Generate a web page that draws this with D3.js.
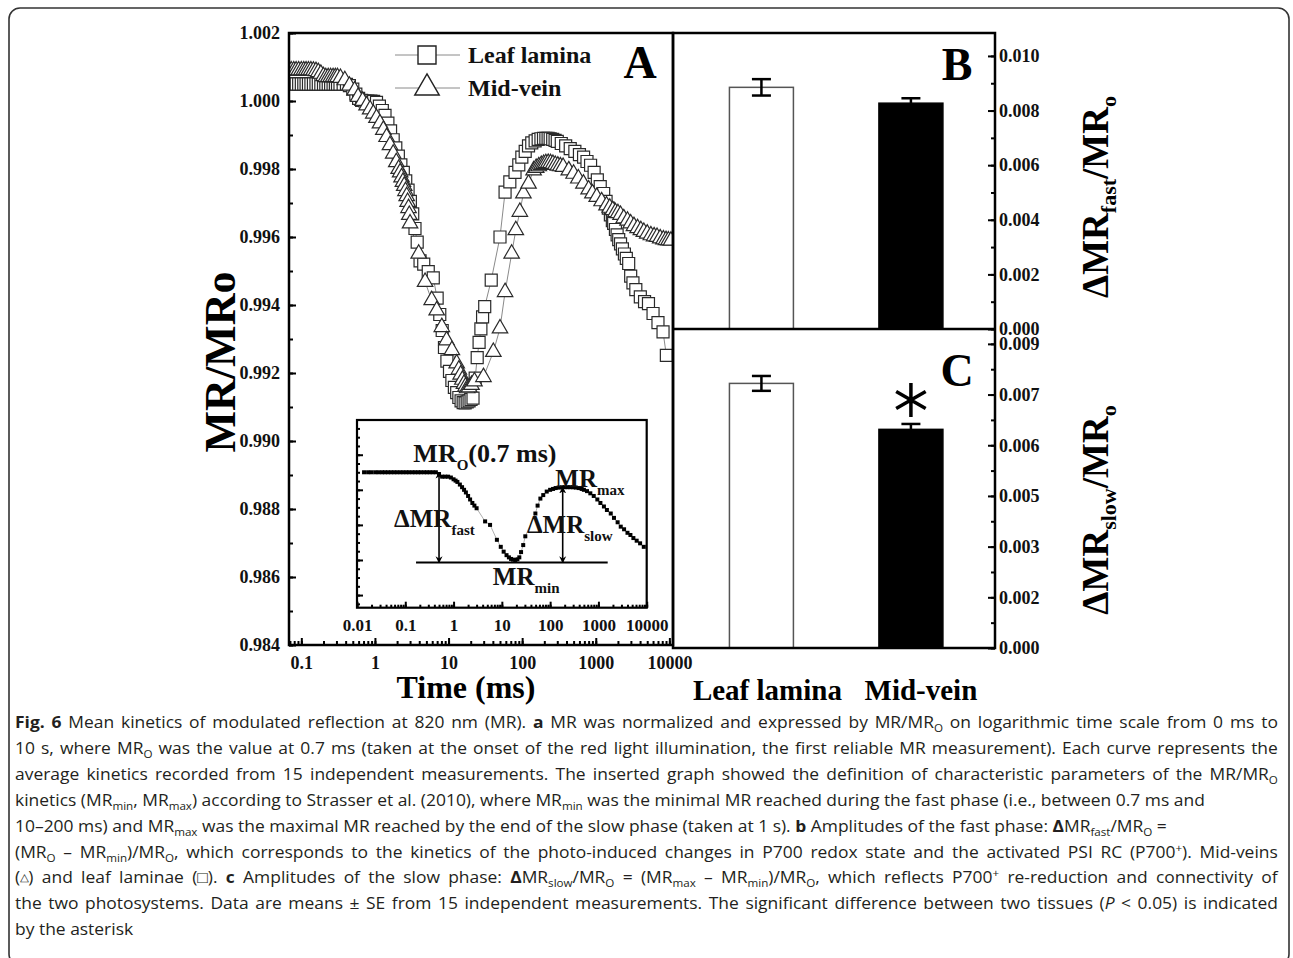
<!DOCTYPE html>
<html>
<head>
<meta charset="utf-8">
<script src="https://cdn.jsdelivr.net/npm/d3@7"></script>
<style>
  body { margin: 0; background: #fff; }
  svg { display: block; }
</style>
</head>
<body>
<div id="chart"></div>
<script>
// ---------- data ----------
// panel A: [time ms, MR/MRo]
var leafLamina = [
  [0.068,1.0005],[0.073,1.0005],[0.079,1.0005],[0.085,1.0005],[0.092,1.0005],[0.1,1.0005],[0.108,1.0005],[0.116,1.0005],
  [0.125,1.0005],[0.135,1.0005],[0.146,1.0005],[0.158,1.0005],[0.17,1.0005],[0.184,1.0005],[0.2,1.0005],[0.215,1.0005],
  [0.232,1.0005],[0.25,1.0005],[0.27,1.0005],[0.29,1.0005],[0.31,1.0005],[0.335,1.0005],[0.37,1.0005],[0.41,1.00049],
  [0.45,1.00045],[0.5,1.00035],[0.55,1.0002],[0.6,1.00008],[0.66,1.00002],[0.73,1.0],[0.8,1.0],[0.88,1.0],[0.96,0.99999],
  [1.05,0.99996],[1.15,0.99985],[1.26,0.99972],[1.37,0.99958],[1.5,0.99935],[1.63,0.99912],[1.77,0.99886],[1.92,0.99862],
  [2.08,0.99838],[2.25,0.99812],[2.43,0.9979],[2.62,0.99765],[2.82,0.99738],[3.03,0.99705],[3.26,0.99668],[3.5,0.99625],
  [3.75,0.99585],[4.1,0.9953],[4.6,0.9952],[5.3,0.99498],[6.2,0.9948],[7.0,0.9942],[7.6,0.99372],[8.2,0.99325],[8.8,0.99275],
  [9.5,0.99235],[10.3,0.99205],[11.1,0.99178],[12.0,0.99158],[12.9,0.99142],[13.8,0.99128],[14.8,0.99118],[15.8,0.99113],
  [16.8,0.99112],[17.9,0.99115],[19.0,0.99118],[20.2,0.99122],[21.5,0.99126],[23,0.99185],[24.5,0.99245],[26,0.9929],
  [27.5,0.9933],[29,0.99365],[31,0.99395],[38,0.99473],[50,0.996],[58.6,0.99732],[68,0.99762],[80,0.9979],[90,0.99812],
  [99,0.99835],[110,0.99852],[122,0.99868],[135,0.99877],[150,0.99883],[165,0.99887],[180,0.99889],[195,0.9989],[210,0.9989],
  [225,0.9989],[240,0.99889],[260,0.99887],[280,0.99884],[300,0.99881],[340,0.99875],[390,0.99868],[450,0.9986],[520,0.99852],
  [600,0.99842],[683,0.99835],[760,0.99822],[850,0.99811],[950,0.9979],[1050,0.99768],[1150,0.99748],[1280,0.99728],
  [1380,0.99705],[1480,0.99685],[1580,0.99665],[1680,0.99648],[1750,0.9964],[1850,0.99622],[1950,0.99606],[2050,0.99592],
  [2170,0.9958],[2300,0.99565],[2450,0.9955],[2600,0.99537],[2800,0.99522],[2980,0.99485],[3200,0.99465],[3500,0.99445],
  [4030,0.99424],[4600,0.9941],[5200,0.99404],[6000,0.99375],[7000,0.99348],[8200,0.99321],[9100,0.99252]
];
var midVein = [
  [0.068,1.0009],[0.073,1.0009],[0.079,1.0009],[0.085,1.0009],[0.092,1.0009],[0.1,1.0009],[0.108,1.0009],[0.116,1.0009],
  [0.125,1.0009],[0.135,1.0009],[0.146,1.00089],[0.158,1.00088],[0.17,1.00085],[0.184,1.0008],[0.2,1.00073],[0.215,1.0007],
  [0.232,1.0007],[0.25,1.0007],[0.27,1.0007],[0.29,1.0007],[0.31,1.0007],[0.34,1.00068],[0.39,1.00061],[0.45,1.00045],
  [0.53,1.00031],[0.59,1.00012],[0.68,1.0],[0.77,0.99987],[0.86,0.99975],[0.95,0.99963],[1.05,0.9995],[1.17,0.99934],
  [1.3,0.99915],[1.44,0.99894],[1.6,0.9987],[1.77,0.99845],[1.95,0.9982],[2.1,0.998],[2.2,0.9979],[2.3,0.99775],[2.4,0.99762],
  [2.5,0.9975],[2.6,0.99735],[2.7,0.9972],[2.78,0.99703],[2.86,0.99685],[2.93,0.99665],[3.0,0.9964],[3.93,0.99551],
  [4.8,0.99468],[5.9,0.99414],[6.9,0.99384],[8.1,0.99335],[9.4,0.99296],[11.1,0.99267],[12.9,0.99228],[13.8,0.9921],
  [14.6,0.99195],[15.4,0.9918],[16.2,0.99168],[17.0,0.9916],[17.9,0.99155],[19.0,0.99158],[20.5,0.99165],[22.5,0.99175],
  [29.8,0.99188],[40.6,0.99262],[50,0.99331],[58.6,0.99438],[72,0.99551],[82,0.9962],[93,0.99674],[104,0.99728],[122,0.99757],
  [143,0.99796],[155,0.99803],[168,0.99808],[182,0.99812],[196,0.99815],[210,0.99817],[226,0.99818],[243,0.99817],
  [262,0.99815],[282,0.99812],[305,0.9981],[330,0.99808],[360,0.99806],[430,0.99796],[500,0.99786],[580,0.99772],
  [680,0.99757],[800,0.9974],[900,0.99728],[1030,0.99718],[1200,0.99705],[1400,0.99693],[1550,0.99686],[1700,0.99679],
  [1850,0.99673],[2000,0.9967],[2170,0.99665],[2400,0.99655],[2700,0.99648],[2980,0.9964],[3300,0.99632],[3700,0.99626],
  [4100,0.9962],[4500,0.99615],[5000,0.9961],[5600,0.99605],[6200,0.99602],[6800,0.996],[7500,0.99596],[8300,0.99593],
  [9000,0.99591],[9700,0.9959],[10500,0.99589]
];
// inset: [time ms, relative MR]  (MRmin = 0, MRo = 1)
var insetCurve = [
  [0.014,1],[0.017,1],[0.02,1],[0.024,1],[0.028,1],[0.033,1],[0.038,1],[0.044,1],[0.051,1],[0.059,1],[0.068,1],[0.079,1],
  [0.091,1],[0.105,1],[0.12,1],[0.14,1],[0.16,1],[0.185,1],[0.21,1],[0.245,1],[0.28,1],[0.32,1],[0.37,1],[0.43,1],[0.5,0.98],
  [0.58,0.95],[0.67,0.95],[0.77,0.95],[0.88,0.94],[1.0,0.92],[1.1,0.905],[1.2,0.89],[1.35,0.86],[1.5,0.83],[1.65,0.8],
  [1.8,0.77],[2.0,0.73],[2.2,0.69],[2.45,0.65],[2.7,0.62],[3.0,0.59],[4.5,0.44],[5.7,0.4],[7.9,0.23],[9.5,0.15],[10.9,0.095],
  [12.5,0.055],[14,0.03],[15.5,0.012],[17,0.004],[19,0],[21,0.008],[23,0.03],[25,0.09],[27.7,0.17],[30.6,0.27],[49.5,0.53],
  [55,0.62],[62.8,0.7],[72,0.74],[85,0.78],[100,0.8],[115,0.81],[130,0.82],[150,0.825],[175,0.829],[200,0.83],[230,0.83],
  [260,0.83],[300,0.829],[340,0.826],[390,0.82],[450,0.81],[500,0.8],[580,0.785],[680,0.76],[800,0.73],[950,0.69],
  [1100,0.65],[1300,0.61],[1500,0.57],[1800,0.53],[2100,0.48],[2500,0.43],[2900,0.38],[3400,0.35],[4000,0.31],
  [4600,0.285],[5300,0.25],[6200,0.22],[7300,0.19],[8700,0.15]
];
var seriesNames = ["Leaf lamina", "Mid-vein"];
var timeTicks = [0.1, 1, 10, 100, 1000, 10000];
var timeTickLabels = ["0.1", "1", "10", "100", "1000", "10000"];
var mrTicks = [0.984, 0.986, 0.988, 0.990, 0.992, 0.994, 0.996, 0.998, 1.000, 1.002];
var insetTicks = [0.01, 0.1, 1, 10, 100, 1000, 10000];
var insetTickLabels = ["0.01", "0.1", "1", "10", "100", "1000", "10000"];

// panels B and C
var tissues = ["Leaf lamina", "Mid-vein"];
var fastMean = [0.00885, 0.00827];
var fastSE = [0.00030, 0.00018];
var slowMean = [0.00783, 0.00647];
var slowSE = [0.00022, 0.00016];
var fastTicks = [0, 0.002, 0.004, 0.006, 0.008, 0.010];
var slowTicks = [0, 0.0015, 0.003, 0.0045, 0.006, 0.0075, 0.009];
var slowTickLabels = ["0.000", "0.002", "0.003", "0.005", "0.006", "0.007", "0.009"];
var significant = [false, true];

// ---------- svg ----------
var width = 1293, height = 958;
var serif = "'Liberation Serif', 'Times New Roman', serif";

var svg = d3.select("#chart").append("svg")
  .attr("width", width)
  .attr("height", height)
  .style("font-family", serif);

// outer frame of the figure box (its bottom edge runs off the page)
svg.append("rect")
  .attr("x", 9).attr("y", 8).attr("width", 1280).attr("height", 957).attr("rx", 11)
  .attr("fill", "none").attr("stroke", "#333").attr("stroke-width", 1.6);

function styleAxis(g, fontSize) {
  g.select(".domain").remove();
  g.selectAll(".tick line").attr("stroke", "#000").attr("stroke-width", 2);
  g.selectAll(".tick text")
    .attr("fill", "#111")
    .style("font-family", serif)
    .style("font-size", fontSize + "px")
    .style("font-weight", "bold");
}

// ---------- panel A ----------
var A = { left: 289, right: 673, top: 33, bottom: 645 };
var x = d3.scaleLog().domain([0.068, 11200]).range([A.left, A.right]);
var y = d3.scaleLinear().domain([0.984, 1.002]).range([A.bottom, A.top]);

svg.append("clipPath").attr("id", "clipA").append("rect")
  .attr("x", A.left).attr("y", A.top).attr("width", A.right - A.left).attr("height", A.bottom - A.top);

var gA = svg.append("g");

gA.append("g").attr("transform", "translate(0," + A.bottom + ")")
  .call(d3.axisBottom(x).tickValues(x.ticks()).tickFormat("").tickSizeInner(-4).tickSizeOuter(0))
  .call(styleAxis, 18);
gA.append("g").attr("transform", "translate(0," + A.bottom + ")")
  .call(d3.axisBottom(x).tickValues(timeTicks).tickFormat(function(d, i) { return timeTickLabels[i]; })
    .tickSizeInner(-7).tickSizeOuter(0).tickPadding(11))
  .call(styleAxis, 18);

var mrMinor = y.ticks(18);
gA.append("g").attr("transform", "translate(" + A.left + ",0)")
  .call(d3.axisLeft(y).tickValues(mrMinor).tickFormat("").tickSizeInner(-4).tickSizeOuter(0))
  .call(styleAxis, 18);
gA.append("g").attr("transform", "translate(" + A.left + ",0)")
  .call(d3.axisLeft(y).tickValues(mrTicks).tickFormat(d3.format(".3f")).tickSizeInner(-7).tickSizeOuter(0).tickPadding(9))
  .call(styleAxis, 18);

var plotA = gA.append("g").attr("clip-path", "url(#clipA)");
var line = d3.line().x(function(d) { return x(d[0]); }).y(function(d) { return y(d[1]); });

[leafLamina, midVein].forEach(function(series) {
  plotA.append("path").datum(series)
    .attr("d", line).attr("fill", "none").attr("stroke", "#8a8a8a").attr("stroke-width", 1);
});

var squareSym = d3.symbol().type(d3.symbolSquare).size(144);
var triSym = d3.symbol().type(d3.symbolTriangle).size(104);

plotA.selectAll(".sq").data(leafLamina).enter().append("path")
  .attr("class", "sq")
  .attr("d", squareSym)
  .attr("transform", function(d) { return "translate(" + x(d[0]) + "," + y(d[1]) + ")"; })
  .attr("fill", "#fff").attr("stroke", "#2a2a2a").attr("stroke-width", 1.2);

plotA.selectAll(".tri").data(midVein).enter().append("path")
  .attr("class", "tri")
  .attr("d", triSym)
  .attr("transform", function(d) { return "translate(" + x(d[0]) + "," + y(d[1]) + ")"; })
  .attr("fill", "#fff").attr("stroke", "#2a2a2a").attr("stroke-width", 1.2);

// legend
var legend = gA.append("g");
seriesNames.forEach(function(name, i) {
  var ly = 55 + i * 33;
  legend.append("line").attr("x1", 395).attr("x2", 460).attr("y1", ly).attr("y2", ly)
    .attr("stroke", "#8a8a8a").attr("stroke-width", 1);
  legend.append("path")
    .attr("d", i === 0 ? d3.symbol().type(d3.symbolSquare).size(324)() : d3.symbol().type(d3.symbolTriangle).size(260)())
    .attr("transform", "translate(427," + ly + ")")
    .attr("fill", "#fff").attr("stroke", "#222").attr("stroke-width", 1.4);
  legend.append("text").attr("x", 468).attr("y", ly + 8).text(name)
    .style("font-size", "24px").style("font-weight", "bold").attr("fill", "#111");
});

gA.append("text").attr("x", 640).attr("y", 78).attr("text-anchor", "middle").text("A")
  .style("font-size", "46px").style("font-weight", "bold");

gA.append("text").attr("transform", "translate(235,362) rotate(-90)").attr("text-anchor", "middle")
  .text("MR/MRo").style("font-size", "44px").style("font-weight", "bold");

gA.append("text").attr("x", 466).attr("y", 698).attr("text-anchor", "middle")
  .text("Time (ms)").style("font-size", "32px").style("font-weight", "bold");

// ---------- inset ----------
var I = { left: 357, right: 646.7, top: 420, bottom: 607.7 };
var xi = d3.scaleLog().domain([0.01, 10000]).range([I.left, I.right]);
var yi = d3.scaleLinear().domain([-0.544, 1.596]).range([I.bottom, I.top]);
var gI = svg.append("g");

gI.append("rect").attr("x", I.left).attr("y", I.top).attr("width", I.right - I.left).attr("height", I.bottom - I.top)
  .attr("fill", "#fff");

gI.append("g").attr("transform", "translate(0," + I.bottom + ")")
  .call(d3.axisBottom(xi).tickValues(xi.ticks()).tickFormat("").tickSizeInner(-3).tickSizeOuter(0))
  .call(styleAxis, 17);
gI.append("g").attr("transform", "translate(0," + I.bottom + ")")
  .call(d3.axisBottom(xi).tickValues(insetTicks).tickFormat(function(d, i) { return insetTickLabels[i]; })
    .tickSizeInner(-6).tickSizeOuter(0).tickPadding(11))
  .call(styleAxis, 17);
gI.append("g").attr("transform", "translate(" + I.left + ",0)")
  .call(d3.axisLeft(yi).tickValues(yi.ticks(20)).tickFormat("").tickSizeInner(-3).tickSizeOuter(0))
  .call(styleAxis, 17);
gI.append("g").attr("transform", "translate(" + I.left + ",0)")
  .call(d3.axisLeft(yi).tickValues(d3.range(-0.4, 1.6, 0.4)).tickFormat("").tickSizeInner(-6).tickSizeOuter(0))
  .call(styleAxis, 17);

var insetLine = d3.line().x(function(d) { return xi(d[0]); }).y(function(d) { return yi(d[1]); });
gI.append("path").datum(insetCurve).attr("d", insetLine)
  .attr("fill", "none").attr("stroke", "#999").attr("stroke-width", 0.8);
gI.selectAll(".dot").data(insetCurve).enter().append("rect")
  .attr("class", "dot")
  .attr("x", function(d) { return xi(d[0]) - 2; })
  .attr("y", function(d) { return yi(d[1]) - 2; })
  .attr("width", 4).attr("height", 4).attr("fill", "#000");

// MRmin baseline and the two double arrows
var minLevel = -0.03;
gI.append("line").attr("x1", xi(0.167)).attr("x2", xi(1556)).attr("y1", yi(minLevel)).attr("y2", yi(minLevel))
  .attr("stroke", "#000").attr("stroke-width", 2);

var defs = svg.append("defs");
defs.append("marker").attr("id", "ahead").attr("viewBox", "0 0 10 10").attr("refX", 9).attr("refY", 5)
  .attr("markerWidth", 7).attr("markerHeight", 8).attr("markerUnits", "userSpaceOnUse").attr("orient", "auto-start-reverse")
  .append("path").attr("d", "M0,0 L10,5 L0,10 L3,5 Z").attr("fill", "#000");

[[0.5, 1.0], [182, 0.83]].forEach(function(a) {
  gI.append("line").attr("x1", xi(a[0])).attr("x2", xi(a[0])).attr("y1", yi(a[1])).attr("y2", yi(minLevel))
    .attr("stroke", "#000").attr("stroke-width", 1.6)
    .attr("marker-start", "url(#ahead)").attr("marker-end", "url(#ahead)");
});

var insetNotes = [
  { t: 0.147, v: 1.12, main: "MR", sub: "O", after: "(0.7 ms)", size: 26 },
  { t: 128, v: 0.836, main: "MR", sub: "max", after: "", size: 25 },
  { t: 0.0586, v: 0.38, main: "\u0394MR", sub: "fast", after: "", size: 25 },
  { t: 33, v: 0.308, main: "\u0394MR", sub: "slow", after: "", size: 25 },
  { t: 6.5, v: -0.285, main: "MR", sub: "min", after: "", size: 25 }
];
insetNotes.forEach(function(n) {
  var t = gI.append("text").attr("x", xi(n.t)).attr("y", yi(n.v))
    .style("font-size", n.size + "px").style("font-weight", "bold").attr("fill", "#111");
  t.append("tspan").text(n.main);
  t.append("tspan").attr("dy", 8).style("font-size", "15px").text(n.sub);
  if (n.after) t.append("tspan").attr("dy", -8).text(n.after);
});

gI.append("rect").attr("x", I.left).attr("y", I.top).attr("width", I.right - I.left).attr("height", I.bottom - I.top)
  .attr("fill", "none").attr("stroke", "#000").attr("stroke-width", 2.2);

// frame of A
gA.append("rect").attr("x", A.left).attr("y", A.top).attr("width", A.right - A.left).attr("height", A.bottom - A.top)
  .attr("fill", "none").attr("stroke", "#000").attr("stroke-width", 2.5);

// ---------- panels B and C ----------
var R = { left: 673, right: 995, top: 33, mid: 329, bottom: 648 };
var xb = d3.scaleBand().domain(tissues).range([R.left, R.right])
  .paddingInner(0.572).paddingOuter(0.363).align(0.52);
var yB = d3.scaleLinear().domain([0, 0.01084]).range([R.mid, R.top]);
var yC = d3.scaleLinear().domain([0, 0.00944]).range([R.bottom, R.mid]);

function barPanel(yScale, means, ses, ticks, minorStep, labels, letter, letterY) {
  var g = svg.append("g");
  var minor = d3.range(0, yScale.domain()[1], minorStep);
  g.append("g").attr("transform", "translate(" + R.right + ",0)")
    .call(d3.axisRight(yScale).tickValues(minor).tickFormat("").tickSizeInner(-4).tickSizeOuter(0))
    .call(styleAxis, 18);
  g.append("g").attr("transform", "translate(" + R.right + ",0)")
    .call(d3.axisRight(yScale).tickValues(ticks)
      .tickFormat(function(d, i) { return labels ? labels[i] : d3.format(".3f")(d); })
      .tickSizeInner(-7).tickSizeOuter(0).tickPadding(4))
    .call(styleAxis, 18);

  g.selectAll(".bar").data(tissues).enter().append("rect")
    .attr("x", function(d) { return xb(d); })
    .attr("width", xb.bandwidth())
    .attr("y", function(d, i) { return yScale(means[i]); })
    .attr("height", function(d, i) { return yScale(0) - yScale(means[i]); })
    .attr("fill", function(d, i) { return i === 0 ? "#fff" : "#000"; })
    .attr("stroke", function(d, i) { return i === 0 ? "#555" : "#000"; })
    .attr("stroke-width", 1.5);

  tissues.forEach(function(d, i) {
    var cx = xb(d) + xb.bandwidth() / 2;
    var top = yScale(means[i] + ses[i]), bot = yScale(means[i] - ses[i]);
    var eb = g.append("g").attr("stroke", "#000").attr("stroke-width", 2.5);
    eb.append("line").attr("x1", cx).attr("x2", cx).attr("y1", top).attr("y2", i === 0 ? bot : yScale(means[i]));
    eb.append("line").attr("x1", cx - 9.5).attr("x2", cx + 9.5).attr("y1", top).attr("y2", top);
    if (i === 0) eb.append("line").attr("x1", cx - 9.5).attr("x2", cx + 9.5).attr("y1", bot).attr("y2", bot);
  });

  g.append("text").attr("x", 957).attr("y", letterY).attr("text-anchor", "middle").text(letter)
    .style("font-size", "46px").style("font-weight", "bold");
  return g;
}

var gB = barPanel(yB, fastMean, fastSE, fastTicks, 0.001, null, "B", 80);
var gC = barPanel(yC, slowMean, slowSE, slowTicks, 0.00075, slowTickLabels, "C", 386);

// asterisk over the significant bar
var starSym = d3.symbol().type(d3.symbolAsterisk).size(820);
tissues.forEach(function(d, i) {
  if (!significant[i]) return;
  var cx = xb(d) + xb.bandwidth() / 2;
  gC.append("path").attr("d", starSym)
    .attr("transform", "translate(" + cx + "," + (yC(slowMean[i] + slowSE[i]) - 24) + ")")
    .attr("fill", "none").attr("stroke", "#000").attr("stroke-width", 3.5);
});

// frames
svg.append("rect").attr("x", R.left).attr("y", R.top).attr("width", R.right - R.left).attr("height", R.bottom - R.top)
  .attr("fill", "none").attr("stroke", "#000").attr("stroke-width", 2.5);
svg.append("line").attr("x1", R.left).attr("x2", R.right).attr("y1", R.mid).attr("y2", R.mid)
  .attr("stroke", "#000").attr("stroke-width", 2.5);

// category labels
svg.selectAll(".cat").data(tissues).enter().append("text")
  .attr("class", "cat")
  .attr("x", function(d, i) { return xb(d) + xb.bandwidth() / 2 + (i === 0 ? 6 : 10); })
  .attr("y", 700).attr("text-anchor", "middle")
  .text(function(d) { return d; })
  .style("font-size", "29px").style("font-weight", "bold");

// right-hand axis titles
function rotatedTitle(cx, cy, sub) {
  var t = svg.append("text").attr("transform", "translate(" + cx + "," + cy + ") rotate(-90)")
    .attr("text-anchor", "middle").style("font-size", "37px").style("font-weight", "bold");
  t.append("tspan").text("\u0394MR");
  t.append("tspan").attr("dy", 8).style("font-size", "22px").text(sub);
  t.append("tspan").attr("dy", -8).text("/MR");
  t.append("tspan").attr("dy", 8).style("font-size", "22px").text("o");
}
rotatedTitle(1108, 197, "fast");
rotatedTitle(1108, 510, "slow");

// ---------- caption ----------
var captionLines = [
  [["Fig. 6", "b"], [" Mean kinetics of modulated reflection at 820 nm (MR). "], ["a", "b"], [" MR was normalized and expressed by MR/MR"], ["O", "sub"], [" on logarithmic time scale from 0 ms to"]],
  [["10 s, where MR"], ["O", "sub"], [" was the value at 0.7 ms (taken at the onset of the red light illumination, the first reliable MR measurement). Each curve represents the"]],
  [["average kinetics recorded from 15 independent measurements. The inserted graph showed the definition of characteristic parameters of the MR/MR"], ["O", "sub"]],
  [["kinetics (MR"], ["min", "sub"], [", MR"], ["max", "sub"], [") according to Strasser et al. (2010), where MR"], ["min", "sub"], [" was the minimal MR reached during the fast phase (i.e., between 0.7 ms and"]],
  [["10\u2013200 ms) and MR"], ["max", "sub"], [" was the maximal MR reached by the end of the slow phase (taken at 1 s). "], ["b", "b"], [" Amplitudes of the fast phase: "], ["\u0394", "b"], ["MR"], ["fast", "sub"], ["/MR"], ["O", "sub"], [" ="]],
  [["(MR"], ["O", "sub"], [" \u2013 MR"], ["min", "sub"], [")/MR"], ["O", "sub"], [", which corresponds to the kinetics of the photo-induced changes in P700 redox state and the activated PSI RC (P700"], ["+", "sup"], ["). Mid-veins"]],
  [["("], ["\u25B3", "sym"], [") and leaf laminae (\u25A1). "], ["c", "b"], [" Amplitudes of the slow phase: "], ["\u0394", "b"], ["MR"], ["slow", "sub"], ["/MR"], ["O", "sub"], [" = (MR"], ["max", "sub"], [" \u2013 MR"], ["min", "sub"], [")/MR"], ["O", "sub"], [", which reflects P700"], ["+", "sup"], [" re-reduction and connectivity of"]],
  [["the two photosystems. Data are means \u00B1 SE from 15 independent measurements. The significant difference between two tissues ("], ["P", "i"], [" < 0.05) is indicated"]],
  [["by the asterisk"]]
];
// right end of each caption line; full lines are justified to the margin
var captionEnds = [1278, 1278, 1278, 1152, 1072, 1278, 1278, 1278, 131];
var captionJustified = [true, true, true, false, false, true, true, true, false];

var cap = svg.append("g")
  .style("font-family", "'Open Sans', 'Noto Sans', sans-serif")
  .style("font-size", "16.5px")
  .attr("fill", "#231f20");

var capLeft = 15;
var capTexts = [];
captionLines.forEach(function(parts, i) {
  var row = cap.append("g");
  var t = row.append("text").attr("x", 0).attr("y", 0);
  var shift = 0;
  parts.forEach(function(p) {
    var kind = p[1] || "";
    var s = t.append("tspan").text(p[0]);
    var target = kind === "sub" ? 4 : kind === "sup" ? -6 : kind === "sym" ? -2 : 0;
    if (target !== shift) { s.attr("dy", target - shift); shift = target; }
    if (kind === "sub" || kind === "sup" || kind === "sym") s.style("font-size", "11px");
    if (kind === "b") s.style("font-weight", "bold");
    if (kind === "i") s.style("font-style", "italic");
  });
  var spaces = parts.map(function(p) { return p[0]; }).join("").split(" ").length - 1;
  capTexts.push({ row: row, text: t, y: 728 + i * 25.9, spaces: spaces, natural: t.node().getComputedTextLength() });
});

// one common horizontal squeeze (between what the full and the ragged lines ask for),
// then word spacing brings the justified lines to the margin
var fit = capTexts.map(function(c, i) { return (captionEnds[i] - capLeft) / c.natural; });
var kFull = d3.mean(fit.filter(function(f, i) { return captionJustified[i]; }));
var kRagged = d3.mean(fit.filter(function(f, i) { return !captionJustified[i]; }));
var k = (kFull + kRagged) / 2;
capTexts.forEach(function(c, i) {
  if (captionJustified[i]) {
    var extra = ((captionEnds[i] - capLeft) / k - c.natural) / Math.max(c.spaces, 1);
    c.text.style("word-spacing", extra + "px");
  }
  c.row.attr("transform", "translate(" + capLeft + "," + c.y + ") scale(" + k + ",1)");
});
</script>
</body>
</html>
